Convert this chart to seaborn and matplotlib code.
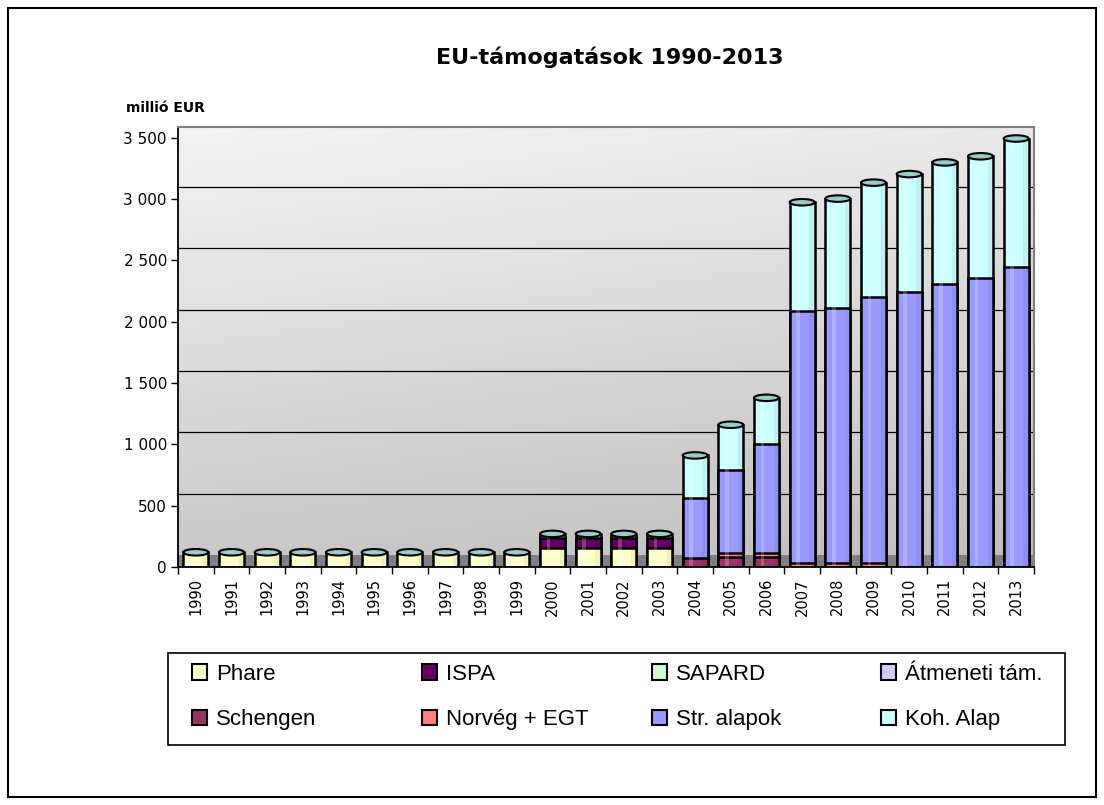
import numpy as np
import pandas as pd
import matplotlib
matplotlib.use("Agg")
import matplotlib.pyplot as plt
import seaborn as sns
from matplotlib.patches import Rectangle, Ellipse, Patch
from matplotlib.colors import LinearSegmentedColormap

# ---------------- data (millió EUR) ----------------
years = ["1990", "1991", "1992", "1993", "1994", "1995", "1996", "1997",
         "1998", "1999", "2000", "2001", "2002", "2003", "2004", "2005",
         "2006", "2007", "2008", "2009", "2010", "2011", "2012", "2013"]

phare    = [120, 120, 120, 120, 120, 120, 120, 120, 120, 120,
            155, 155, 155, 155, 0, 0, 0, 0, 0, 0, 0, 0, 0, 0]
ispa     = [0, 0, 0, 0, 0, 0, 0, 0, 0, 0,
            80, 80, 80, 80, 0, 0, 0, 0, 0, 0, 0, 0, 0, 0]
sapard   = [0, 0, 0, 0, 0, 0, 0, 0, 0, 0,
            35, 35, 35, 35, 0, 0, 0, 0, 0, 0, 0, 0, 0, 0]
atmeneti = [0, 0, 0, 0, 0, 0, 0, 0, 0, 0,
            0, 0, 0, 0, 0, 0, 0, 0, 0, 0, 0, 0, 0, 0]
schengen = [0, 0, 0, 0, 0, 0, 0, 0, 0, 0,
            0, 0, 0, 0, 75, 85, 85, 0, 0, 0, 0, 0, 0, 0]
norveg   = [0, 0, 0, 0, 0, 0, 0, 0, 0, 0,
            0, 0, 0, 0, 0, 30, 30, 35, 35, 35, 0, 0, 0, 0]
str_alap = [0, 0, 0, 0, 0, 0, 0, 0, 0, 0,
            0, 0, 0, 0, 485, 675, 890, 2055, 2080, 2170, 2245, 2310, 2355, 2450]
koh_alap = [0, 0, 0, 0, 0, 0, 0, 0, 0, 0,
            0, 0, 0, 0, 350, 370, 375, 885, 890, 930, 960, 990, 995, 1045]

series_names = ["Phare", "ISPA", "SAPARD", "Átmeneti tám.",
                "Schengen", "Norvég + EGT", "Str. alapok", "Koh. Alap"]
series_values = [phare, ispa, sapard, atmeneti, schengen, norveg, str_alap, koh_alap]
series_colors = ["#FFFFCC", "#660066", "#CCFFCC", "#CCCCFF",
                 "#993366", "#FF8080", "#9999FF", "#CCFFFF"]

ytick_values = [0, 500, 1000, 1500, 2000, 2500, 3000, 3500]
ytick_labels = ["0", "500", "1 000", "1 500", "2 000", "2 500", "3 000", "3 500"]

title = "EU-támogatások 1990-2013"
unit_label = "millió EUR"

# ---------------- figure ----------------
sns.set_style("white")
plt.rcParams["font.family"] = ["DejaVu Sans"]
plt.rcParams["text.color"] = "black"
plt.rcParams["xtick.color"] = "black"
plt.rcParams["ytick.color"] = "black"
plt.rcParams["xtick.labelcolor"] = "black"
plt.rcParams["ytick.labelcolor"] = "black"

W, H = 1104, 805
fig = plt.figure(figsize=(W / 100, H / 100), dpi=100)
fig.patch.set_facecolor("white")

ax_left, ax_right, ax_top, ax_bottom = 178, 1034, 127, 567
ax = fig.add_axes([ax_left / W, 1 - ax_bottom / H,
                   (ax_right - ax_left) / W, (ax_bottom - ax_top) / H])

px_per_unit = 61.3 / 500
ymax = (ax_bottom - ax_top) / px_per_unit
depth = 12 / px_per_unit  # 3D floor depth

df = pd.DataFrame({"year": years})
for n, v in zip(series_names, series_values):
    df[n] = v
cum = df[series_names].cumsum(axis=1)

# background gradient (back wall)
gy = np.linspace(0, 1, 256)[:, None]
gx = np.linspace(0, 1, 256)[None, :]
grad = 0.8 * gy + 0.2 * gx
cmap = LinearSegmentedColormap.from_list("wall", ["#F3F3F3", "#BEBEBE"])
ax.imshow(grad, extent=(-0.5, 23.5, 0, ymax), aspect="auto", cmap=cmap,
          zorder=0, interpolation="bilinear")

# floor
ax.axhspan(0, depth, color="#808080", zorder=0.5, lw=0)
# gridlines on back wall
for v in ytick_values[1:-1]:
    ax.axhline(v + depth, color="black", lw=0.9, zorder=0.6)

# stacked bars: draw cumulative totals from top series down
bar_w = 0.7
for k in reversed(range(len(series_names))):
    name = series_names[k]
    mask = df[name] > 0
    if not mask.any():
        continue
    sub = pd.DataFrame({"year": df.loc[mask, "year"], "val": cum.loc[mask, name]})
    sns.barplot(data=sub, x="year", y="val", order=years, color=series_colors[k],
                width=bar_w, saturation=1, edgecolor="black", linewidth=1.8,
                ax=ax, zorder=2)

# cylinder shading and top caps
totals = cum[series_names[-1]].values
cap_h = 6.5 / px_per_unit
for i, t in enumerate(totals):
    ax.add_patch(Rectangle((i - 0.16, 0), 0.1, t, facecolor="white",
                           alpha=0.22, lw=0, zorder=2.5))
    ax.add_patch(Rectangle((i + 0.2, 0), 0.12, t, facecolor="black",
                           alpha=0.06, lw=0, zorder=2.5))
    ax.add_patch(Ellipse((i, t), bar_w, cap_h, facecolor="#99CCCC",
                         edgecolor="black", lw=1.5, zorder=3))

ax.set_xlim(-0.5, 23.5)
ax.set_ylim(0, ymax)
ax.set_xlabel("")
ax.set_ylabel("")

ax.set_yticks(ytick_values)
ax.set_yticklabels(ytick_labels)
ax.set_xticks(range(len(years)))
ax.set_xticklabels(years, rotation=90)
ax.set_xticks(np.arange(-0.5, len(years), 1.0), minor=True)
ax.tick_params(axis="y", left=True, length=5, width=1, direction="out",
               pad=3, labelsize=11, colors="black")
ax.tick_params(axis="x", which="major", bottom=True, length=0, pad=8,
               labelsize=10.5, colors="black")
ax.tick_params(axis="x", which="minor", bottom=True, length=5, width=1,
               direction="out", colors="black")

for s in ["left", "bottom"]:
    ax.spines[s].set_color("black")
    ax.spines[s].set_linewidth(1.3)
for s in ["top", "right"]:
    ax.spines[s].set_color("#808080")
    ax.spines[s].set_linewidth(1.5)
for s in ax.spines.values():
    s.set_zorder(4)

# texts
fig.text(610 / W, 1 - 57 / H, title, ha="center", va="center",
         fontsize=16, fontweight="bold", color="black")
fig.text(126 / W, 1 - 108 / H, unit_label, ha="left", va="center",
         fontsize=10, fontweight="bold", color="black")

# legend: box + 4 columns
leg_l, leg_r, leg_t, leg_b = 168, 1065, 653, 745
fig.add_artist(Rectangle((leg_l / W, 1 - leg_b / H), (leg_r - leg_l) / W,
                         (leg_b - leg_t) / H, transform=fig.transFigure,
                         fill=False, edgecolor="black", lw=1.2))
col_x = [196, 426, 656, 885]
for c in range(4):
    hs = [Patch(facecolor=series_colors[c], edgecolor="black", lw=1.5),
          Patch(facecolor=series_colors[c + 4], edgecolor="black", lw=1.5)]
    ls = [series_names[c], series_names[c + 4]]
    leg = fig.legend(hs, ls, loc="upper left",
                     bbox_to_anchor=(col_x[c] / W - 0.004, 1 - 664 / H),
                     frameon=False, handlelength=0.7, handleheight=0.7,
                     handletextpad=0.4, labelspacing=1.09, borderpad=0,
                     borderaxespad=0, labelcolor="black",
                     prop={"family": ["Liberation Sans", "DejaVu Sans"], "size": 16})

# outer chart border
fig.add_artist(Rectangle((8 / W, 8 / H), (W - 16) / W, (H - 16) / H,
                         transform=fig.transFigure, fill=False,
                         edgecolor="black", lw=1.5))

fig.savefig("out.png", dpi=100)
